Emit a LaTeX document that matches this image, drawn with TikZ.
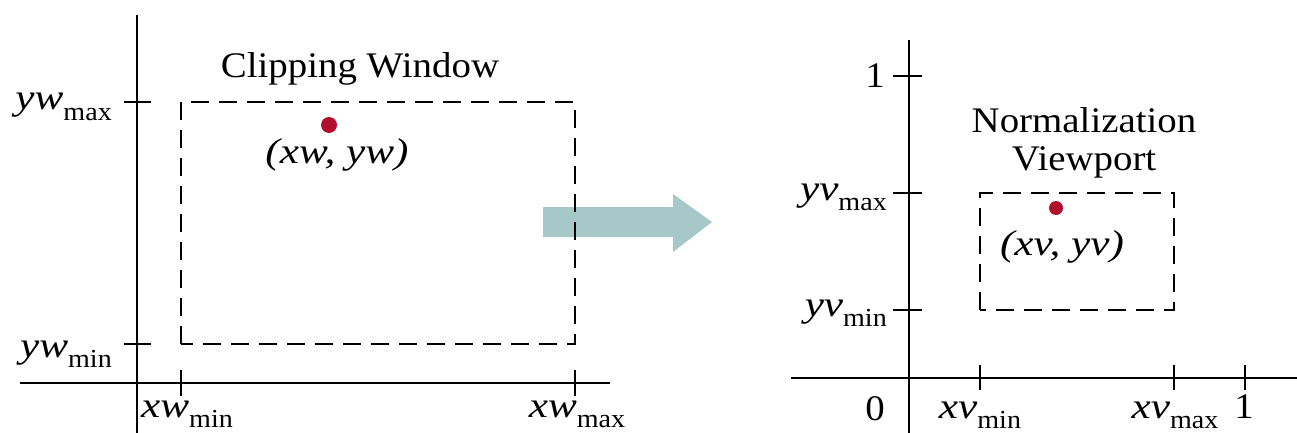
\documentclass[tikz,border=0pt]{standalone}
\usepackage{fontspec}
\setmainfont{Liberation Serif}[FakeStretch=1.08]
\newfontfamily\mifont{Liberation Serif Italic}[FakeStretch=1.2]
\definecolor{dotred}{HTML}{B0102E}
\definecolor{arrowteal}{HTML}{A7C8C9}
\newcommand{\mv}[1]{{\mifont #1}}
\newcommand{\sbx}[1]{\raisebox{-0.28em}{\fontsize{26}{28}\selectfont #1}}
\begin{document}
\begin{tikzpicture}[x=1pt,y=-1pt,
  axis/.style={line width=2.8pt},
  tick/.style={line width=2.8pt},
  clipbox/.style={line width=2.8pt, dash pattern=on 18pt off 10pt},
  dot/.style={circle, fill=dotred, inner sep=0pt, minimum size=16pt},
  lbl/.style={inner sep=0pt, font=\fontsize{36}{40}\selectfont},
]
\useasboundingbox (0,0) rectangle (1297,433);
% arrow (behind)
\fill[arrowteal] (543,207) -- (673,207) -- (673,194) -- (712,222) -- (673,252) -- (673,237) -- (543,237) -- cycle;
% ---------- left: world coordinates ----------
\coordinate (lyt) at (137,15);
\coordinate (lyb) at (137,433);
\coordinate (lxl) at (20,383);
\coordinate (lxr) at (610,383);
\draw[axis] (lyt) -- (lyb);
\draw[axis] (lxl) -- (lxr);
\draw[tick] (124,102) -- (151,102);
\draw[tick] (124,344) -- (151,344);
\draw[tick] (181,370) -- (181,396);
\draw[tick] (575,370) -- (575,396);
\draw[clipbox] (181,344) -- (181,102) -- (575,102) -- (575,344) -- cycle;
\node[dot] (pw) at (329,125) {};
\node[lbl, anchor=base] (ptw) at (337,163) {\mv{(xw, yw)}};
\node[lbl, anchor=base] (cw) at (360,78) {Clipping Window};
\node[lbl, anchor=base east] (ywmax) at (112,110) {\mv{yw}\sbx{max}};
\node[lbl, anchor=base east] (ywmin) at (112,357) {\mv{yw}\sbx{min}};
\node[lbl, anchor=base west] (xwmin) at (141,417) {\mv{xw}\sbx{min}};
\node[lbl, anchor=base] (xwmax) at (577,417) {\mv{xw}\sbx{max}};
% ---------- right: normalized viewport ----------
\coordinate (ryt) at (909,40);
\coordinate (ryb) at (909,433);
\coordinate (rxl) at (791,378);
\coordinate (rxr) at (1297,378);
\draw[axis] (ryt) -- (ryb);
\draw[axis, line width=2.2pt] (rxl) -- (rxr);
\draw[tick] (893,76) -- (922,76);
\draw[tick] (893,193) -- (922,193);
\draw[tick] (893,310) -- (922,310);
\draw[tick] (980,365) -- (980,390);
\draw[tick] (1174,365) -- (1174,390);
\draw[tick] (1245,365) -- (1245,390);
\draw[clipbox] (980,310) -- (980,193) -- (1174,193) -- (1174,310) -- cycle;
\node[dot, minimum size=14pt] (pv) at (1056,208) {};
\node[lbl, anchor=base] (ptv) at (1062,255) {\mv{(xv, yv)}};
\node[lbl, anchor=base] (nv1) at (1084,132) {Normalization};
\node[lbl, anchor=base] (nv2) at (1084,170) {Viewport};
\node[lbl, anchor=base east] (one) at (885,88) {1};
\node[lbl, anchor=base east] (yvmax) at (887,200) {\mv{yv}\sbx{max}};
\node[lbl, anchor=base east] (yvmin) at (887,316) {\mv{yv}\sbx{min}};
\node[lbl, anchor=base] (zero) at (875,420) {0};
\node[lbl, anchor=base] (xvmin) at (980,418) {\mv{xv}\sbx{min}};
\node[lbl, anchor=base] (xvmax) at (1175,418) {\mv{xv}\sbx{max}};
\node[lbl, anchor=base] (onex) at (1244,418) {1};
\end{tikzpicture}
\end{document}
